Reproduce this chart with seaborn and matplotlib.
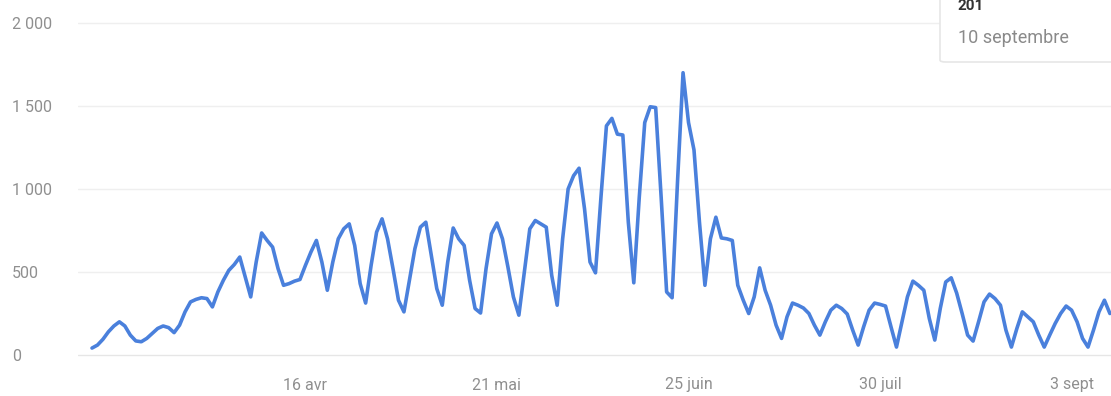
import matplotlib
matplotlib.use("Agg")
import matplotlib.pyplot as plt
from matplotlib.patches import FancyBboxPatch
import numpy as np
import pandas as pd
import seaborn as sns

# ---------------- data ----------------
start_date = "2023-03-08"
visits = [
    42, 60, 95, 140, 175, 200, 175, 120, 85, 80,
    100, 130, 160, 175, 165, 135, 180, 260, 320, 335,
    345, 340, 290, 380, 450, 510, 545, 590, 470, 350,
    560, 735, 690, 650, 520, 420, 430, 445, 455, 540,
    620, 690, 560, 390, 560, 700, 760, 790, 660, 430,
    313, 540, 740, 820, 700, 520, 330, 260, 450, 640,
    770, 800, 600, 400, 300, 560, 765, 700, 660, 450,
    280, 253, 520, 730, 795, 700, 530, 350, 240, 500,
    760, 810, 790, 770, 480, 300, 700, 1000, 1080, 1125,
    880, 560, 495, 950, 1380, 1425, 1330, 1325, 800, 435,
    950, 1400, 1495, 1490, 950, 380, 345, 1050, 1700, 1400,
    1235, 800, 420, 700, 830, 705, 700, 690, 420, 330,
    250, 350, 525, 390, 300, 180, 100, 230, 313, 300,
    283, 250, 180, 120, 200, 270, 300, 280, 247, 150,
    60, 170, 270, 313, 305, 295, 170, 48, 200, 350,
    445, 420, 390, 220, 90, 280, 440, 465, 373, 250,
    120, 84, 200, 320, 367, 340, 300, 150, 48, 160,
    260, 230, 200, 120, 48, 120, 190, 250, 295, 270,
    200, 100, 48, 150, 260, 330, 250,
]
x_tick_dates = ["2023-04-16", "2023-05-21", "2023-06-25", "2023-07-30", "2023-09-03"]
x_tick_labels = ["16 avr", "21 mai", "25 juin", "30 juil", "3 sept"]
y_ticks = [0, 500, 1000, 1500, 2000]
y_tick_labels = ["0", "500", "1 000", "1 500", "2 000"]
tooltip_value = "201"
tooltip_date = "10 septembre"

dates = pd.date_range(start_date, periods=len(visits), freq="D")
df = pd.DataFrame({"date": dates, "visits": visits})

# ---------------- figure ----------------
sns.set_theme(style="white")
plt.rcParams["font.family"] = ["Roboto", "DejaVu Sans"]

W, H = 1111, 396
fig = plt.figure(figsize=(W / 100, H / 100), dpi=100)
ax_left, ax_right = 78, 1111
ax_top, ax_bottom = 0, 365
ax = fig.add_axes([ax_left / W, (H - ax_bottom) / H,
                   (ax_right - ax_left) / W, (ax_bottom - ax_top) / H])

sns.lineplot(data=df, x="date", y="visits", ax=ax, color="#4a80dc",
             linewidth=2.6, zorder=3)
ax.lines[0].set_solid_joinstyle("round")

d0 = dates[0]
ax.set_xlim(d0 - pd.Timedelta(days=2.56), d0 + pd.Timedelta(days=186.2))
ax.set_ylim(-60, 2138)

for v in y_ticks[1:]:
    ax.axhline(v, color="#efefef", linewidth=1.0, zorder=1)
ax.axhline(0, color="#e6e6e6", linewidth=1.0, zorder=1)

ax.set_yticks(y_ticks)
ax.set_yticklabels(y_tick_labels)
ax.set_xticks(pd.to_datetime(x_tick_dates))
ax.set_xticklabels(x_tick_labels)

for s in ax.spines.values():
    s.set_visible(False)
ax.tick_params(axis="both", length=0, labelsize=11.5, labelcolor="#8f8f8f")
ax.tick_params(axis="y", pad=47.5)
for lbl in ax.get_yticklabels():
    lbl.set_horizontalalignment("left")
ax.tick_params(axis="x", pad=9)
ax.set_xlabel("")
ax.set_ylabel("")

# tooltip box (top right, partly cut by the figure edge)
box = FancyBboxPatch((940 / W, 1 - 62 / H), 200 / W, 80 / H,
                     boxstyle="round,pad=0,rounding_size=0.005",
                     transform=fig.transFigure, facecolor="white",
                     edgecolor="#e6e6e6", linewidth=1.2, zorder=10)
fig.patches.append(box)
fig.text(958 / W, 1 - 6 / H, tooltip_value, fontsize=11, fontweight="bold",
         color="#333333", ha="left", va="center", zorder=11)
fig.text(958 / W, 1 - 38 / H, tooltip_date, fontsize=13, color="#8a8a8a",
         ha="left", va="center", zorder=11)

fig.savefig("out.png", dpi=100)
